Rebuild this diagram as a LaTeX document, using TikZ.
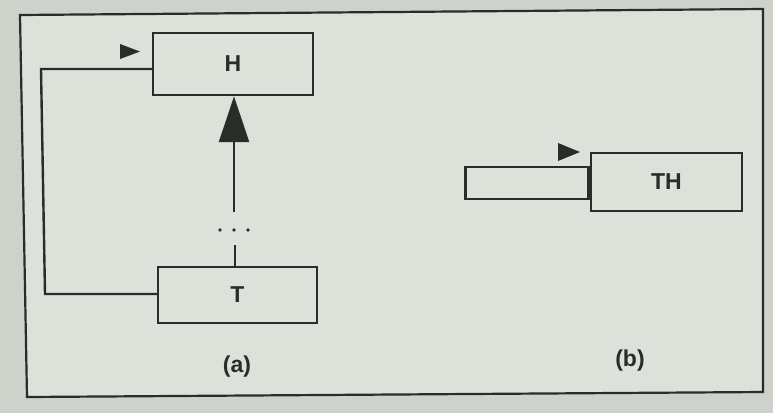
\documentclass[tikz,border=0pt]{standalone}
\usepackage{fontspec}
\setmainfont{Liberation Sans}
\usetikzlibrary{arrows.meta}
\definecolor{paper}{HTML}{DCE2DA}
\definecolor{outer}{HTML}{CDD3CB}
\definecolor{ink}{HTML}{2A2C2A}
\tikzset{
  x=1pt,y=-1pt,
  boxn/.style={draw=ink,line width=2.4pt,inner sep=0pt,font=\fontsize{23}{26}\selectfont\bfseries,text=ink},
  wire/.style={draw=ink,line width=2.4pt},
  tri/.style={fill=ink,draw=none},
  lbl/.style={font=\fontsize{23}{26}\selectfont\bfseries,text=ink}
}
\begin{document}
\begin{tikzpicture}
\fill[outer] (0,0) rectangle (773,413);
\useasboundingbox (0,0) rectangle (773,413);
\coordinate (f1) at (20,15);
\coordinate (f2) at (763,9);
\coordinate (f3) at (763,392);
\coordinate (f4) at (27,397);
\filldraw[fill=paper,draw=ink,line width=2.2pt] (f1) -- (f2) -- (f3) -- (f4) -- cycle;
% (a)
\node[boxn,minimum width=160pt,minimum height=62pt] (H) at (233,64) {H};
\node[boxn,minimum width=159pt,minimum height=56pt] (T) at (237.5,295) {T};
\coordinate (dotA) at (235,245);
\coordinate (dotB) at (234,212);
\draw[wire] (T.north -| dotA) -- (dotA);
\foreach \dx in {-14,0,14} \fill[ink] (234+\dx,230) circle (1.8pt);
\draw[wire,-{Triangle[length=46pt,width=30pt]}] (dotB) -- (H.south -| dotB);
\coordinate (la) at (45,294);
\coordinate (lb) at (41,69);
\draw[wire] (T.west |- la) -- (la) -- (lb) -- (H.west |- lb);
\fill[tri] (120,44) -- (140,51.5) -- (120,59) -- cycle;
\node[lbl] (capa) at (237,367) {(a)};
% (b)
\node[boxn,minimum width=151pt,minimum height=58pt] (TH) at (666.5,182) {TH};
\node[boxn,minimum width=123pt,minimum height=32pt,anchor=east] (stub) at (TH.west |- 0,183) {};
\fill[tri] (558,143) -- (580,152) -- (558,161) -- cycle;
\node[lbl] (capb) at (630,361) {(b)};
\end{tikzpicture}
\end{document}
